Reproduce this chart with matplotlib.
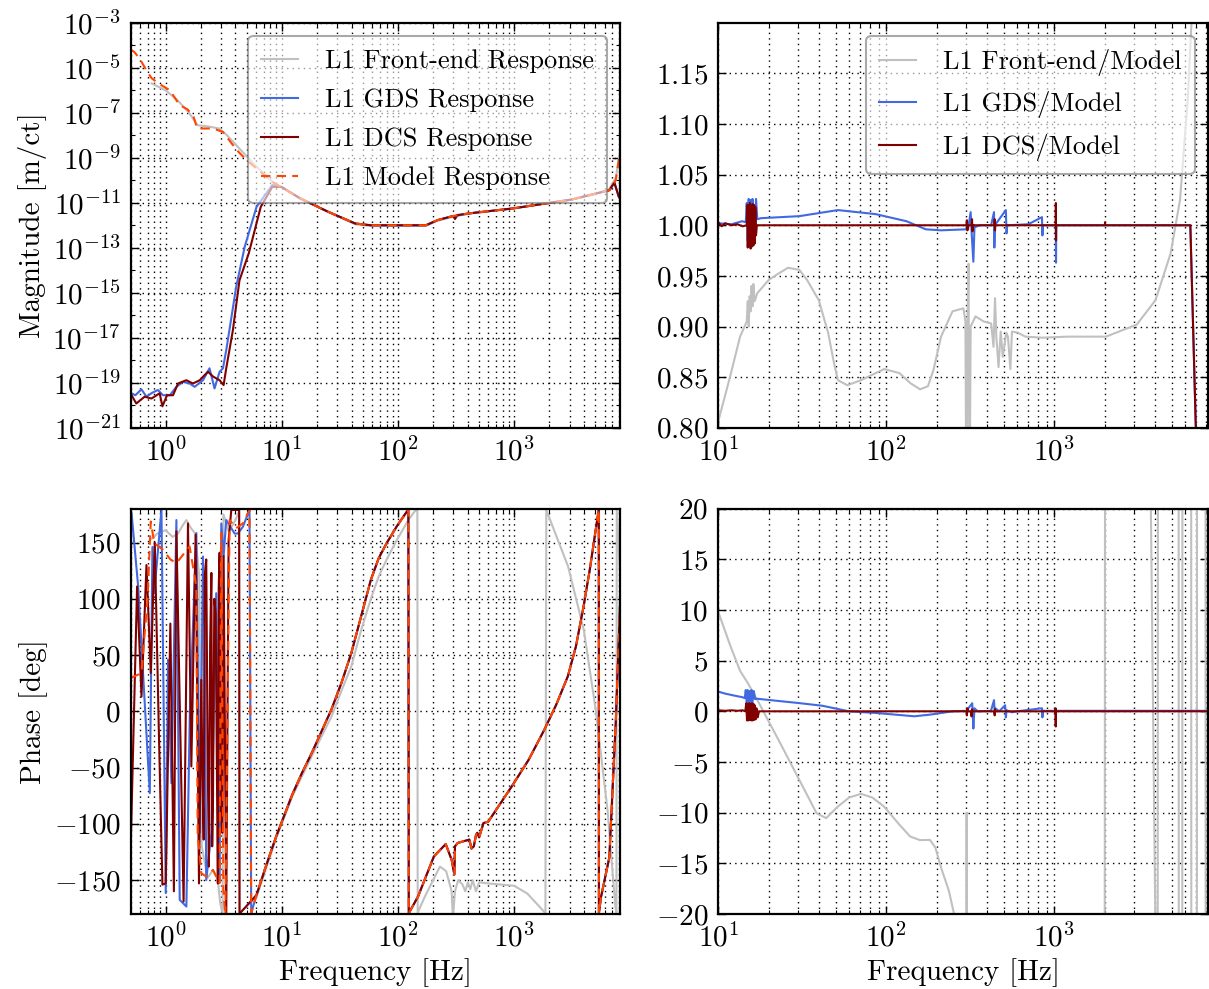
# Response function plots: magnitude/phase and ratio to model (L1)

import matplotlib
matplotlib.use("Agg")
import matplotlib.pyplot as plt
from matplotlib.ticker import FixedLocator, NullFormatter, ScalarFormatter

# --- magnitude [m/ct] ---
fe_mag_f = [0.76, 1.0, 1.27, 1.61, 1.88, 2.28, 2.89, 3.38, 4.44, 6.07, 8.3, 14.3, 25, 42.9,
            58.5, 100, 174, 220, 300, 415, 975, 3150, 5000, 6600, 7500, 8192]
fe_mag = [2.0e-6, 1.0e-6, 3.6e-7, 9.3e-8, 2.8e-8, 2.5e-8, 2.0e-8, 1.0e-8, 2.2e-9, 4.0e-10,
          8.5e-11, 1.6e-11, 4.0e-12, 1.1e-12, 9.3e-13, 9.3e-13, 9.3e-13, 1.6e-12, 2.4e-12,
          3.3e-12, 5.5e-12, 1.4e-11, 2.5e-11, 4.0e-11, 1.3e-10, 2.0e-9]

gds_mag_f = [0.5, 0.51, 0.55, 0.62, 0.686, 0.76, 0.86, 0.95, 1.09, 1.24, 1.41, 1.61, 1.78,
             2.10, 2.39, 2.64, 2.92, 3.12, 3.33, 4.06, 4.8, 6.07, 8.3, 10, 14.3, 25, 42.9,
             58.5, 100, 174, 220, 300, 310, 330, 415, 975, 3150, 6600, 7300, 7950, 8192]
gds_mag = [3.5e-20, 3.4e-20, 2.8e-20, 5.1e-20, 2.4e-20, 3.5e-20, 4.8e-20, 2.8e-20, 2.8e-20,
           6.6e-20, 1.1e-19, 9.3e-20, 6.6e-20, 1.3e-19, 4.4e-19, 5.6e-20, 3.1e-19, 4.4e-19,
           2.8e-18, 1.9e-15, 1.1e-13, 6.6e-12, 6.2e-11, 5.0e-11, 1.6e-11, 4.0e-12, 1.2e-12,
           1.0e-12, 1.0e-12, 1.0e-12, 1.7e-12, 2.6e-12, 2.0e-12, 2.8e-12, 3.4e-12, 5.6e-12,
           1.4e-11, 3.6e-11, 7.8e-11, 1.9e-11, 1.5e-11]

dcs_mag_f = [0.5, 0.51, 0.56, 0.66, 0.757, 0.89, 0.94, 1.03, 1.16, 1.28, 1.51, 1.72, 1.97,
             2.17, 2.32, 2.56, 2.92, 3.16, 3.33, 3.80, 4.33, 5.2, 6.6, 8.3, 10, 14.3, 25, 42.9,
             58.5, 100, 174, 220, 300, 310, 320, 415, 975, 3150, 6600, 7300, 7950, 8192]
dcs_mag = [3.0e-20, 2.8e-20, 1.2e-20, 2.4e-20, 2.0e-20, 3.4e-20, 9.0e-21, 2.8e-20, 2.8e-20,
           9.3e-20, 1.3e-19, 9.3e-20, 1.3e-19, 2.2e-19, 3.1e-19, 1.9e-19, 1.3e-19, 7.9e-20,
           4.4e-19, 2.2e-17, 3.6e-15, 5.6e-14, 6.6e-12, 5.1e-11, 5.0e-11, 1.6e-11, 4.0e-12,
           1.2e-12, 1.0e-12, 1.0e-12, 1.0e-12, 1.7e-12, 2.6e-12, 1.9e-12, 2.8e-12, 3.4e-12,
           5.6e-12, 1.4e-11, 3.6e-11, 7.8e-11, 1.9e-11, 1.5e-11]

model_mag_f = [0.5, 0.537, 0.6, 0.7, 0.76, 0.9, 1.09, 1.32, 1.55, 1.74, 1.88, 2.57, 3.12,
               4.10, 4.98, 8.3, 14.3, 25, 42.9, 58.5, 100, 174, 220, 300, 415, 975, 3150,
               6600, 7500, 8192]
model_mag = [6.3e-5, 5.1e-5, 2.5e-5, 6.3e-6, 3.4e-6, 1.8e-6, 1.0e-6, 2.2e-7, 1.4e-7, 6.6e-8,
             2.0e-8, 2.0e-8, 1.4e-8, 2.2e-9, 7.9e-10, 8.5e-11, 1.6e-11, 4.0e-12, 1.2e-12,
             1.0e-12, 1.0e-12, 1.0e-12, 1.7e-12, 2.6e-12, 3.4e-12, 5.6e-12, 1.4e-11, 3.6e-11,
             1.0e-10, 2.1e-9]

# --- отношение к модели ---
fe_ratio_f = [10, 11.8, 13.5, 14.8, 15.0, 15.2, 15.4, 15.6, 15.8, 16.0, 16.2, 16.5, 17.1, 20,
              22.2, 26, 30.4, 33.8, 39.7, 45.1, 48.9, 51.6, 58.7, 70.7, 97.3, 119.8, 139.5,
              159, 177, 191, 212, 248, 288, 296, 300, 304, 309, 313, 318, 340, 380, 421, 435,
              444, 452, 466, 480, 494, 518, 530, 548, 560, 606, 673, 850, 1195, 2030, 3100,
              4000, 4920, 5600, 6220, 6600]
fe_ratio = [0.806, 0.851, 0.890, 0.905, 0.925, 0.900, 0.930, 0.915, 0.940, 0.920, 0.942, 0.925,
            0.933, 0.946, 0.951, 0.958, 0.956, 0.946, 0.926, 0.894, 0.864, 0.847, 0.842, 0.847,
            0.858, 0.854, 0.844, 0.838, 0.841, 0.857, 0.890, 0.915, 0.918, 0.905, 0.700, 0.900,
            0.962, 0.700, 0.900, 0.910, 0.905, 0.903, 0.880, 0.928, 0.890, 0.860, 0.895, 0.870,
            0.894, 0.890, 0.858, 0.895, 0.894, 0.890, 0.889, 0.890, 0.890, 0.902, 0.926, 0.972,
            1.025, 1.124, 1.210]

gds_ratio_f = [10, 12, 13.9, 14.6, 14.8, 15.0, 15.2, 15.4, 15.6, 15.8, 16.0, 16.2, 16.4, 16.6,
               16.8, 17.1, 18, 30.4, 51.6, 86.6, 132, 172, 212, 300, 303, 307, 318, 323, 330,
               335, 360, 421, 438, 440, 443, 515, 520, 525, 700, 845, 850, 855, 1020, 1024,
               1028, 2000, 6450, 6980]
gds_ratio = [1.002, 1.001, 1.004, 1.003, 1.022, 0.985, 1.026, 0.982, 1.025, 0.980, 1.026,
             0.985, 1.020, 0.990, 1.026, 1.006, 1.007, 1.009, 1.015, 1.011, 1.004, 0.996,
             0.995, 0.996, 1.003, 0.996, 1.013, 0.990, 0.964, 0.998, 1.000, 1.000, 1.013,
             0.978, 1.000, 1.015, 0.992, 1.000, 1.001, 1.008, 0.990, 1.000, 1.000, 0.963,
             1.000, 1.000, 1.000, 0.790]

dcs_ratio_f = [10, 10.5, 11, 12, 13, 14, 14.8, 14.9, 15.0, 15.15, 15.3, 15.45, 15.6, 15.75,
               15.9, 16.05, 16.2, 16.35, 16.5, 16.65, 16.8, 17, 300, 302, 304, 306, 322, 324,
               326, 328, 440, 442, 444, 446, 1020, 1022, 1024, 1026, 2000, 2005, 2010, 6450,
               6980]
dcs_ratio = [1.003, 0.999, 1.002, 1.000, 1.001, 0.999, 1.000, 1.020, 0.978, 1.020, 0.980,
             1.022, 0.977, 1.020, 0.979, 1.021, 0.980, 1.020, 0.982, 1.018, 0.990, 1.000,
             1.000, 1.005, 0.995, 1.000, 1.000, 1.006, 0.994, 1.000, 1.000, 1.006, 0.995,
             1.000, 1.000, 1.022, 0.985, 1.000, 1.000, 1.003, 1.000, 1.000, 0.790]

# --- фаза [deg] ---
fe_phase_f = [0.73, 0.85, 1.0, 1.15, 1.28, 1.4, 1.51, 1.65, 1.8, 1.95, 2.05, 2.3, 2.56, 2.82,
              2.95, 3.1, 3.15, 3.5, 4.0, 4.3, 4.35, 6.07, 8.95, 12.3, 14.9, 18.1, 26.7, 32.6,
              39.7, 48.2, 58.5, 68.4, 80, 97.6, 123, 140, 147, 148, 170, 230, 260, 290, 296,
              300, 310, 330, 360, 380, 400, 420, 440, 470, 500, 600, 1000, 1300, 1600, 1860,
              1893, 2917, 3980, 5040, 6370, 7440, 7600, 7650, 8192]
fe_phase = [152, 158, 161, 155, 158, 165, 170, 163, 158, 120, -120, -148, -141, -150, -170,
            -180, 175, 160, 170, 178, -179, -165, -113, -76, -58, -40, -5, 18, 40, 72, 100, 120,
            135, 152, 170, 178, 179, -179, -165, -138, -142, -160, -180, -178, -160, -150,
            -154, -160, -152, -158, -150, -160, -152, -153, -155, -162, -172, -179.5, 179,
            128.7, 72.4, 1.3, -87.6, -173.5, -179, 179, 120]

gds_phase_f = [0.5, 0.51, 0.581, 0.732, 0.771, 0.80, 0.922, 1.004, 1.051, 1.124, 1.24, 1.324,
               1.511, 1.62, 1.841, 1.97, 2.10, 2.17, 2.24, 2.48, 2.73, 2.92, 3.02, 3.16, 3.33,
               3.93, 4.19, 4.63, 5.28, 5.46, 6.07, 7.38, 8.95, 12.3, 14.9, 18.1, 26.7, 32.6,
               39.7, 48.2, 58.5, 68.4, 80, 97.6, 123, 124, 149, 204, 258, 290, 306, 310, 327,
               412, 430, 450, 470, 482, 500, 545, 600, 975, 1334, 1820, 2303, 2900, 3404,
               3960, 4480, 5040, 5360, 5370, 5600, 6600, 7500, 8192]
gds_phase = [179, 176, 111, -72.7, 146, 105, 179, -161.6, 45.8, -63.9, 170, -167.6, -173.5,
             0, 158.4, -108, 137.6, 72, -150, -108, 105, -150, 167, 138, 170, 158, 158, 164,
             179, -179.4, -163.1, -136.4, -111.3, -74.2, -55, -37.2, 1.3, 25, 51.7, 84.3,
             116.9, 136.2, 149.5, 164.3, 179.5, -179.5, -164.6, -129, -118, -132, -145, -120,
             -117, -114, -122, -120, -110, -108, -112, -99.4, -98, -65.3, -43.1, -16.4, 5.8,
             31.1, 57.6, 93.1, 125.8, 161.3, 179.5, -179.5, -165, -130, -10, 100]

dcs_phase_f = [0.5, 0.569, 0.621, 0.685, 0.746, 0.808, 0.875, 0.940, 1.004, 1.10, 1.18, 1.24,
               1.43, 1.56, 1.667, 1.816, 1.94, 2.03, 2.08, 2.13, 2.17, 2.24, 2.30, 2.36, 2.42,
               2.48, 2.52, 2.56, 2.63, 2.70, 2.76, 2.82, 2.87, 2.92, 3.00, 3.08, 3.16, 3.25,
               3.33, 3.49, 3.68, 4.06, 4.30, 4.33, 6.07, 7.38, 8.95, 12.3, 14.9, 18.1, 26.7,
               32.6, 39.7, 48.2, 58.5, 68.4, 80, 97.6, 123, 124, 149, 204, 258, 290, 306, 310,
               327, 412, 430, 450, 470, 482, 500, 545, 600, 975, 1334, 1820, 2303, 2900, 3404,
               3960, 4480, 5040, 5360, 5370, 5600, 6600, 7500, 8192]
dcs_phase = [-125, 111, 13, 130, 34, 150, -16, -154, -153, 78, -160, 160, -169, 167, -49, 157,
             -153, 28, -60, -114, 120, 135, -30, -138, 60, 123, -120, -79, 100, 87, -40, -153,
             110, 141, -90, -108, 138, -30, -182, 152, 179, 179, 179, -180, -163.1, -136.4,
             -111.3, -74.2, -55, -37.2, 1.3, 25, 51.7, 84.3, 116.9, 136.2, 149.5, 164.3,
             179.5, -179.5, -164.6, -129, -118, -132, -145, -120, -117, -114, -122, -120,
             -110, -108, -112, -99.4, -98, -65.3, -43.1, -16.4, 5.8, 31.1, 57.6, 93.1, 125.8,
             161.3, 179.5, -179.5, -165, -130, -10, 100]

model_phase_f = [0.5, 0.62, 0.70, 0.746, 0.80, 0.95, 1.10, 1.24, 1.61, 1.84, 1.89, 2.03, 2.24,
                 2.56, 2.92, 3.02, 3.15, 3.27, 3.56, 4.06, 4.63, 5.28, 5.46, 6.07, 7.38, 8.95,
                 12.3, 14.9, 18.1, 26.7, 32.6, 39.7, 48.2, 58.5, 68.4, 80, 97.6, 123, 124, 149,
                 204, 258, 290, 306, 310, 327, 412, 430, 450, 470, 482, 500, 545, 600, 975,
                 1334, 1820, 2303, 2900, 3404, 3960, 4480, 5040, 5360, 5370, 5600, 6600, 7500,
                 8192]
model_phase = [29.5, 34, 100, 168.7, 149.5, 143.6, 135, 131.7, 146.5, 111, -108.3, -143.9,
               -146.8, -141, -152.7, 158.4, -160, -182, 170, 162.8, 167, 179, -179.4, -163.1,
               -136.4, -111.3, -74.2, -55, -37.2, 1.3, 25, 51.7, 84.3, 116.9, 136.2, 149.5,
               164.3, 179.5, -179.5, -164.6, -129, -118, -132, -145, -120, -117, -114, -122,
               -120, -110, -108, -112, -99.4, -98, -65.3, -43.1, -16.4, 5.8, 31.1, 57.6, 93.1,
               125.8, 161.3, 179.5, -179.5, -165, -130, -10, 100]

# --- разность фаз с моделью [deg] ---
fe_dphase_f = [10, 11.8, 13.5, 15, 17.5, 23.4, 30.4, 38.5, 43.9, 51.6, 60.2, 70.7, 82.6, 97,
               119, 139, 159, 182, 196, 212, 236, 254, 280, 300, 301, 302, 1990, 2010, 3700,
               4050, 4120, 4140, 5490, 5510, 5770, 5790, 6520, 6540, 7050, 7070, 7940, 7960,
               8192]
fe_dphase = [9.86, 6.5, 4.0, 2.8, 0.81, -3.14, -6.77, -10.06, -10.55, -9.4, -8.51, -8.15,
             -8.51, -9.4, -11.14, -12.37, -12.72, -12.7, -13.45, -15.43, -17.73, -20.1, -24,
             -30, -10, -30, -60, 60, 30, -30, -40, 40, 40, -40, -40, 40, 40, -40, -40, 40, 40,
             -40, -40]

gds_dphase_f = [10, 11, 12.5, 13.9, 14.4, 14.6, 14.8, 15.0, 15.2, 15.4, 15.6, 15.8, 16.0, 16.3,
                16.6, 17, 18, 30.4, 41.7, 60, 86.6, 147, 182, 248, 300, 325, 330, 335, 350, 420,
                438, 442, 446, 470, 510, 515, 520, 560, 600, 845, 850, 855, 8192]
gds_dphase = [1.95, 1.75, 1.55, 1.4, 1.3, 2.1, 0.9, 2.1, 0.7, 2.0, 0.8, 2.1, 0.9, 2.0, 1.2,
              1.25, 1.2, 0.81, 0.55, 0.0, -0.16, -0.49, -0.33, 0.0, 0.05, 0.8, -1.7, 0.3, 0.0,
              0.05, 1.1, -0.2, 0.3, 0.0, 0.6, -0.6, 0.1, -0.1, 0.0, 0.3, -0.6, 0.05, 0.05]

dcs_dphase_f = [10, 11, 12, 13, 14, 14.5, 14.7, 14.85, 15.0, 15.15, 15.3, 15.45, 15.6, 15.75,
                15.9, 16.05, 16.2, 16.35, 16.5, 16.7, 16.9, 17.2, 17.5, 300, 302, 304, 306,
                320, 322, 324, 326, 440, 442, 444, 446, 1016, 1018, 1020, 1022, 2000, 8192]
dcs_dphase = [0.1, 0.05, 0.1, 0.05, 0.1, 0.0, 0.8, -0.9, 0.7, -0.9, 0.8, -0.85, 0.7, -0.9, 0.8,
              -0.9, 0.75, -0.85, 0.6, -0.8, 0.3, -0.6, 0.0, 0.0, -0.4, 0.3, 0.0, 0.0, -0.5,
              0.2, 0.0, 0.0, -0.4, 0.2, 0.0, 0.0, 0.3, -1.5, 0.0, 0.0, 0.0]

ratio_ticks = [0.80, 0.85, 0.90, 0.95, 1.00, 1.05, 1.10, 1.15]
phase_ticks = [-150, -100, -50, 0, 50, 100, 150]
dphase_ticks = [-20, -15, -10, -5, 0, 5, 10, 15, 20]

C_FE = "#c0c0c0"
C_GDS = "#4169e1"
C_DCS = "#800000"
C_MODEL = "#ff4500"
LW = 1.5
DASH = (0, (4.5, 3))
GRID = dict(linestyle=(0, (1, 3)), color="k", linewidth=1.0)


def style_axes(ax, log_y=False):
    ax.tick_params(which="both", direction="in", top=True, right=True, labelsize=21, pad=7)
    ax.tick_params(which="major", length=6, width=1)
    ax.tick_params(which="minor", length=3, width=0.8)
    for sp in ax.spines.values():
        sp.set_linewidth(1.6)
    ax.grid(True, which="major", **GRID)
    ax.xaxis.grid(True, which="minor", **GRID)
    if not log_y:
        ax.yaxis.set_major_formatter(ScalarFormatter(useMathText=True))


def add_legend(ax):
    leg = ax.legend(loc="upper right", fontsize=19, framealpha=0.6, fancybox=True,
                    handlelength=1.4, handletextpad=1.0, labelspacing=0.58, borderpad=0.5)
    leg.get_frame().set_edgecolor("#707070")
    leg.get_frame().set_linewidth(1.5)


def main():
    plt.rcParams["font.family"] = "serif"
    plt.rcParams["font.serif"] = ["cmr10", "DejaVu Serif"]
    plt.rcParams["mathtext.fontset"] = "cm"
    plt.rcParams["axes.formatter.use_mathtext"] = True
    plt.rcParams["axes.unicode_minus"] = True

    fig, axes = plt.subplots(2, 2, figsize=(12.09, 9.89), dpi=100)
    fig.subplots_adjust(left=0.108, right=0.999, bottom=0.076, top=0.977,
                        wspace=0.2, hspace=0.2)
    ax_mag, ax_rat = axes[0]
    ax_ph, ax_dph = axes[1]

    # магнитуда
    ax_mag.loglog(fe_mag_f, fe_mag, color=C_FE, lw=LW, label="L1 Front-end Response")
    ax_mag.loglog(gds_mag_f, gds_mag, color=C_GDS, lw=LW, label="L1 GDS Response")
    ax_mag.loglog(dcs_mag_f, dcs_mag, color=C_DCS, lw=LW, label="L1 DCS Response")
    ax_mag.loglog(model_mag_f, model_mag, color=C_MODEL, lw=LW, ls=DASH,
                  label="L1 Model Response")
    ax_mag.set_xlim(0.5, 8192)
    ax_mag.set_ylim(1e-21, 1e-3)
    ax_mag.set_yticks([10.0 ** e for e in (-21, -19, -17, -15, -13, -11, -9, -7, -5, -3)])
    ax_mag.yaxis.set_minor_locator(FixedLocator(
        [10.0 ** e for e in (-20, -18, -16, -14, -12, -10, -8, -6, -4)]))
    ax_mag.yaxis.set_minor_formatter(NullFormatter())
    ax_mag.set_ylabel("Magnitude [m/ct]", fontsize=21)
    style_axes(ax_mag, log_y=True)
    add_legend(ax_mag)

    # отношение
    ax_rat.semilogx(fe_ratio_f, fe_ratio, color=C_FE, lw=LW, label="L1 Front-end/Model")
    ax_rat.semilogx(gds_ratio_f, gds_ratio, color=C_GDS, lw=LW, label="L1 GDS/Model")
    ax_rat.semilogx(dcs_ratio_f, dcs_ratio, color=C_DCS, lw=LW, label="L1 DCS/Model")
    ax_rat.set_xlim(10, 8192)
    ax_rat.set_ylim(0.8, 1.2)
    ax_rat.set_yticks(ratio_ticks)
    style_axes(ax_rat)
    add_legend(ax_rat)

    # фаза
    ax_ph.semilogx(fe_phase_f, fe_phase, color=C_FE, lw=LW)
    ax_ph.semilogx(gds_phase_f, gds_phase, color=C_GDS, lw=LW)
    ax_ph.semilogx(dcs_phase_f, dcs_phase, color=C_DCS, lw=LW)
    ax_ph.semilogx(model_phase_f, model_phase, color=C_MODEL, lw=LW, ls=DASH)
    ax_ph.set_xlim(0.5, 8192)
    ax_ph.set_ylim(-180, 180)
    ax_ph.set_yticks(phase_ticks)
    ax_ph.set_ylabel("Phase [deg]", fontsize=21)
    ax_ph.set_xlabel("Frequency [Hz]", fontsize=21)
    style_axes(ax_ph)

    # разность фаз
    ax_dph.semilogx(fe_dphase_f, fe_dphase, color=C_FE, lw=LW)
    ax_dph.semilogx(gds_dphase_f, gds_dphase, color=C_GDS, lw=LW)
    ax_dph.semilogx(dcs_dphase_f, dcs_dphase, color=C_DCS, lw=LW)
    ax_dph.set_xlim(10, 8192)
    ax_dph.set_ylim(-20, 20)
    ax_dph.set_yticks(dphase_ticks)
    ax_dph.set_xlabel("Frequency [Hz]", fontsize=21)
    style_axes(ax_dph)

    fig.savefig("out.png", dpi=100)
    plt.close(fig)


if __name__ == "__main__":
    main()
